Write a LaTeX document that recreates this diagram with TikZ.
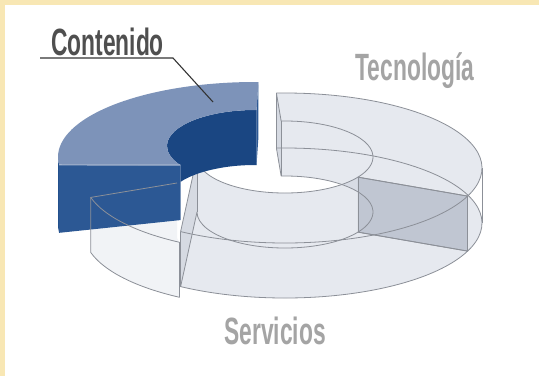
\documentclass[tikz,border=0pt]{standalone}
\usepackage{fontspec}
\newfontfamily\labelfont[FakeStretch=0.6]{Liberation Sans}

\definecolor{cream}{HTML}{F8E7B4}
\definecolor{edgegray}{HTML}{8C9098}
\definecolor{facegray}{HTML}{C3CAD8}
\definecolor{cutgray}{HTML}{9AA3B5}
\definecolor{conttop}{HTML}{7D93B9}
\definecolor{contnavy}{HTML}{1A4682}
\definecolor{contside}{HTML}{2C5894}
\definecolor{contwall}{HTML}{22508C}
\definecolor{labelgray}{HTML}{A4A4A4}
\definecolor{titlegray}{HTML}{4F4F4F}

% points on the ring: outer/inner, top/bottom
\newcommand{\OT}[1]{(#1:197pt and 75pt)}
\newcommand{\OB}[1]{([yshift=-55pt]#1:197pt and 75pt)}
\newcommand{\IT}[1]{([yshift=11pt]#1:88pt and 36pt)}
\newcommand{\IB}[1]{([yshift=-44pt]#1:88pt and 36pt)}
\newcommand{\OBtall}[1]{([yshift=-68pt]#1:197pt and 75pt)}

% see-through piece: outer from #1 to #2, inner from #3 to #4
\newcommand{\lightpiece}[4]{%
  \fill[light face] \OB{#1} arc[outer arc,start angle=#1,end angle=#2] -- \IB{#4} arc[inner arc,start angle=#4,end angle=#3] -- cycle;
  \fill[light face] \OT{#1} arc[outer arc,start angle=#1,end angle=#2] -- \OB{#2} arc[outer arc,start angle=#2,end angle=#1] -- cycle;
  \fill[light face] \IT{#3} arc[inner arc,start angle=#3,end angle=#4] -- \IB{#4} arc[inner arc,start angle=#4,end angle=#3] -- cycle;
  \fill[light face] \OT{#1} arc[outer arc,start angle=#1,end angle=#2] -- \IT{#4} arc[inner arc,start angle=#4,end angle=#3] -- cycle;
  \fill[cut face] \OT{#1} -- \IT{#3} -- \IB{#3} -- \OB{#1} -- cycle;
  \fill[cut face] \OT{#2} -- \IT{#4} -- \IB{#4} -- \OB{#2} -- cycle;
}
\newcommand{\lightedges}[4]{%
  \draw[ring edge] \OT{#1} arc[outer arc,start angle=#1,end angle=#2] -- \IT{#4} arc[inner arc,start angle=#4,end angle=#3] -- cycle;
  \draw[ring edge] \OB{#1} arc[outer arc,start angle=#1,end angle=#2] -- \IB{#4} arc[inner arc,start angle=#4,end angle=#3] -- cycle;
  \draw[ring edge] \OT{#1} -- \OB{#1} \OT{#2} -- \OB{#2} \IT{#3} -- \IB{#3} \IT{#4} -- \IB{#4};
}

\begin{document}
\begin{tikzpicture}[x=1pt,y=1pt,
    outer arc/.style={x radius=197pt,y radius=75pt},
    inner arc/.style={x radius=88pt,y radius=36pt},
    light face/.style={fill=facegray,fill opacity=0.22},
    cut face/.style={fill=cutgray,fill opacity=0.3},
    ring edge/.style={draw=edgegray,line width=0.8pt,line join=round},
    name label/.style={font={\labelfont\bfseries\fontsize{38pt}{38pt}\selectfont},text=labelgray,inner sep=0pt,anchor=base},
    title label/.style={name label,text=titlegray},
    leader/.style={draw=black!80,line width=1.1pt}]

  % Background
  \useasboundingbox (0,0) rectangle (539,-376);
  \fill[cream] (0,0) rectangle (539,-376);
  \fill[white] (5,-5) rectangle (539,-376);

  \begin{scope}[shift={(285pt,-168pt)}]
    % Tecnologia and Servicios
    \lightpiece{-22}{92.5}{-34}{92.5}
    \lightpiece{238}{338}{180}{326}
    \lightedges{-22}{92.5}{-34}{92.5}
    \draw[ring edge] \OT{0} -- \OB{0};
    \lightedges{238}{338}{180}{326}

    % small piece on the left, below Contenido
    \begin{scope}[shift={(-4pt,-10pt)}]
      \coordinate (leftcut) at (-104,-5);
      \coordinate (leftend) at (-104,-60);
      \fill[light face] \OT{195} arc[outer arc,start angle=195,end angle=239] -- \OB{239} arc[outer arc,start angle=239,end angle=195] -- cycle;
      \fill[light face] \OT{195} arc[outer arc,start angle=195,end angle=239] -- (leftend) -- (leftcut) -- cycle;
    \end{scope}

    % Contenido, pulled out
    \begin{scope}[shift={(-30pt,11pt)}]
      \fill[contnavy] \IT{89} arc[inner arc,start angle=89,end angle=212] -- \IB{212} arc[inner arc,start angle=212,end angle=89] -- cycle;
      \fill[contwall] \OT{178} arc[outer arc,start angle=178,end angle=186] -- \OBtall{186} arc[outer arc,start angle=186,end angle=178] -- cycle;
      \fill[contside] \OT{186} -- \IT{212} -- \IB{212} -- \OBtall{186} -- cycle;
      \fill[contside] \OT{89} -- \IT{89} -- \IB{89} -- \OB{89} -- cycle;
      \fill[conttop] \OT{89} arc[outer arc,start angle=89,end angle=186] -- \IT{212} arc[inner arc,start angle=212,end angle=89] -- cycle;
      \draw[conttop!70!white,line width=1.2pt] \OT{186} -- \IT{212};
    \end{scope}

    % edges of the small piece, seen through
    \begin{scope}[shift={(-4pt,-10pt)}]
      \draw[ring edge] (leftcut) -- \OT{195} arc[outer arc,start angle=195,end angle=239] -- \OB{239};
      \draw[ring edge] \OT{195} -- \OB{195} arc[outer arc,start angle=195,end angle=239];
    \end{scope}
  \end{scope}

  % Labels
  \node[title label] (contenido) at (107.5,-55) {Contenido};
  \node[name label] (tecnologia) at (415,-80) {Tecnología};
  \node[name label] (servicios) at (275,-344) {Servicios};

  \coordinate (underL) at (40,-58);
  \coordinate (underR) at (173,-58);
  \coordinate (tip) at (213,-102);
  \draw[leader] (underL) -- (underR) -- (tip);

\end{tikzpicture}
\end{document}
